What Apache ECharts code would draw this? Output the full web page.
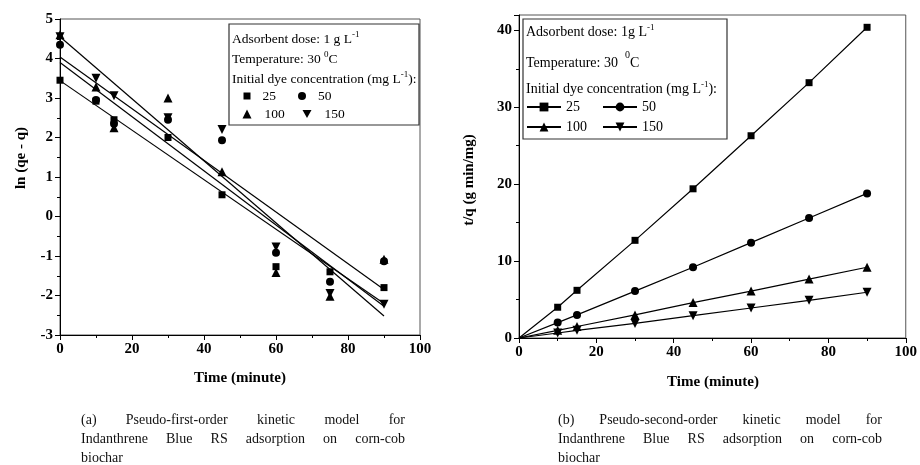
<!DOCTYPE html>
<html>
<head>
<meta charset="utf-8">
<script src="https://cdn.jsdelivr.net/npm/echarts@6/dist/echarts.min.js"></script>
<style>
  body { margin: 0; background: #fff; }
  #chart { position: absolute; left: 0; top: 0; width: 920px; height: 465px; }
  .caption {
    position: absolute;
    top: 410px;
    width: 324px;
    font: 14px "Liberation Serif", serif;
    line-height: 19px;
    color: #111;
  }
  .caption .j { text-align: justify; text-align-last: justify; }
</style>
</head>
<body>
<div id="chart"></div>
<div class="caption" style="left:81px">
  <div class="j">(a) Pseudo-first-order kinetic model for</div>
  <div class="j">Indanthrene Blue RS adsorption on corn-cob</div>
  <div>biochar</div>
</div>
<div class="caption" style="left:558px">
  <div class="j">(b) Pseudo-second-order kinetic model for</div>
  <div class="j">Indanthrene Blue RS adsorption on corn-cob</div>
  <div>biochar</div>
</div>
<script>
// (a) pseudo-first-order, ln(qe - q)
const times = [0, 10, 15, 30, 45, 60, 75, 90];
const ln25 = [3.45, 2.92, 2.45, 2.0, 0.55, -1.27, -1.4, -1.8];
const ln50 = [4.35, 2.95, 2.35, 2.45, 1.93, -0.92, -1.65, -1.13];
const ln100 = [4.6, 3.28, 2.25, 3.0, 1.13, -1.42, -2.02, -1.08];
const ln150 = [4.55, 3.5, 3.06, 2.5, 2.2, -0.77, -1.95, -2.22];

// fitted lines, read at t = 0 and t = 90
const fitTimes = [0, 90];
const fitStart = [4.55, 4.04, 3.9, 3.44];
const fitEnd = [-2.52, -1.85, -2.27, -2.2];

// (b) pseudo-second-order, t/q
const times2 = [0, 10, 15, 30, 45, 60, 75, 90];
const tq25 = [0, 4.0, 6.2, 12.7, 19.4, 26.3, 33.2, 40.4];
const tq50 = [0, 2.0, 3.0, 6.1, 9.2, 12.4, 15.6, 18.8];
const tq100 = [0, 1.0, 1.5, 3.0, 4.6, 6.1, 7.66, 9.2];
const tq150 = [0, 0.65, 1.0, 1.9, 2.9, 3.9, 4.9, 5.95];

const concLabels = ["25", "50", "100", "150"];
const xTicks = { min: 0, max: 100, interval: 20 };

const FONT = "Liberation Serif";
const symbols = ["rect", "circle", "triangle", "path://M0,0L10,0L5,8.7Z"];
const symbolSizes = [7, 8, 9, 9];

const chart = echarts.init(document.getElementById("chart"));

function xAxis(gridIndex) {
  return {
    type: "value",
    gridIndex: gridIndex,
    min: xTicks.min,
    max: xTicks.max,
    interval: xTicks.interval,
    axisLine: { show: true, onZero: false, lineStyle: { color: "#000", width: 1 } },
    axisTick: { show: true, inside: false, length: 5, lineStyle: { color: "#000" } },
    minorTick: { show: true, splitNumber: 2, length: 3, lineStyle: { color: "#000" } },
    splitLine: { show: false },
    axisLabel: {
      color: "#000",
      fontFamily: FONT,
      fontWeight: "bold",
      fontSize: 15,
      margin: 7
    }
  };
}

function yAxis(gridIndex, min, max, interval) {
  return {
    type: "value",
    gridIndex: gridIndex,
    min: min,
    max: max,
    interval: interval,
    axisLine: { show: true, onZero: false, lineStyle: { color: "#000", width: 1 } },
    axisTick: { show: true, inside: false, length: 5, lineStyle: { color: "#000" } },
    minorTick: { show: true, splitNumber: 2, length: 3, lineStyle: { color: "#000" } },
    splitLine: { show: false },
    axisLabel: {
      color: "#000",
      fontFamily: FONT,
      fontWeight: "bold",
      fontSize: 15,
      margin: 7,
      showMaxLabel: max % interval === 0
    }
  };
}

const lnData = [ln25, ln50, ln100, ln150];
const tqData = [tq25, tq50, tq100, tq150];

const scatterSeries = lnData.map((vals, i) => ({
  name: "a" + concLabels[i],
  type: "scatter",
  xAxisIndex: 0,
  yAxisIndex: 0,
  symbol: symbols[i],
  symbolSize: symbolSizes[i],
  itemStyle: { color: "#000", opacity: 1 },
  data: vals.map((v, k) => [times[k], v]),
  z: 3
}));

const fitSeries = fitStart.map((s, i) => ({
  type: "line",
  xAxisIndex: 0,
  yAxisIndex: 0,
  symbol: "none",
  silent: true,
  lineStyle: { color: "#000", width: 1.2 },
  data: [[fitTimes[0], s], [fitTimes[1], fitEnd[i]]],
  z: 2
}));

const tqSeries = tqData.map((vals, i) => ({
  name: "b" + concLabels[i],
  type: "line",
  xAxisIndex: 1,
  yAxisIndex: 1,
  symbol: symbols[i],
  symbolSize: symbolSizes[i],
  showSymbol: true,
  itemStyle: { color: "#000", opacity: 1 },
  lineStyle: { color: "#000", width: 1.2 },
  data: vals.map((v, k) =>
    k === 0 ? { value: [times2[k], v], symbol: "none" } : [times2[k], v]
  )
}));

function legendItem(name, left, cy, w, h, fs, pad) {
  return {
    data: [name],
    left: left,
    top: cy - 8,
    z: 20,
    padding: 0,
    itemWidth: w,
    itemHeight: h,
    itemGap: 0,
    selectedMode: false,
    formatter: n => n.slice(1),
    itemStyle: { opacity: 1 },
    textStyle: { fontFamily: FONT, fontSize: fs, color: "#000", padding: [0, 0, 0, pad] }
  };
}

function makeRich(fs) {
  return {
    n: { fontFamily: FONT, fontSize: fs, color: "#000" },
    s: { fontFamily: FONT, fontSize: 9, color: "#000", padding: [0, 0, 8, 0] },
    t: { fontFamily: FONT, fontSize: 10, color: "#000", padding: [0, 0, 16, 0] }
  };
}

function boxText(x, y, text, fs) {
  return {
    type: "text",
    z: 10,
    style: { x: x, y: y, text: text, rich: makeRich(fs), verticalAlign: "middle", fill: "#000" }
  };
}

function axisName(x, y, text, rotate) {
  return {
    type: "text",
    x: x,
    y: y,
    rotation: rotate ? Math.PI / 2 : 0,
    style: {
      text: text,
      fontFamily: FONT,
      fontWeight: "bold",
      fontSize: 15,
      fill: "#000",
      align: "center",
      verticalAlign: "middle"
    }
  };
}

chart.setOption({
  animation: false,
  backgroundColor: "#fff",
  grid: [
    { left: 60, top: 19, width: 360, height: 316, show: true, borderColor: "#555", borderWidth: 1 },
    { left: 519, top: 15, width: 389, height: 323, show: true, borderColor: "#555", borderWidth: 1 }
  ],
  xAxis: [xAxis(0), xAxis(1)],
  yAxis: [yAxis(0, -3, 5, 1), yAxis(1, 0, 42, 10)],
  legend: [
    legendItem("a25", 243.5, 97, 7, 7, 13.5, 7),
    legendItem("a50", 298, 97, 8, 8, 13.5, 7),
    legendItem("a100", 242.5, 115, 9, 9, 13.5, 8),
    legendItem("a150", 302.5, 115, 9, 9, 13.5, 8),
    legendItem("b25", 526, 108, 34, 11, 14, 0),
    legendItem("b50", 602, 108, 34, 11, 14, 0),
    legendItem("b100", 526, 128, 34, 11, 14, 0),
    legendItem("b150", 602, 128, 34, 11, 14, 0)
  ],
  graphic: [
    {
      type: "rect",
      shape: { x: 229, y: 24, width: 190, height: 101 },
      style: { fill: "#fff", stroke: "#333", lineWidth: 1.2 },
      z: 5
    },
    {
      type: "rect",
      shape: { x: 523, y: 19, width: 204, height: 120 },
      style: { fill: "#fff", stroke: "#333", lineWidth: 1.2 },
      z: 5
    },
    boxText(232, 39, "{n|Adsorbent dose: 1 g L}{s|-1}", 13.5),
    boxText(232, 59, "{n|Temperature: 30 }{s|0}{n|C}", 13.5),
    boxText(232, 79, "{n|Initial dye concentration (mg L}{s|-1}{n|):}", 13.5),
    boxText(526, 32, "{n|Adsorbent dose: 1g L}{s|-1}", 14),
    boxText(526, 63, "{n|Temperature: 30  }{t|0}{n|C}", 14),
    boxText(526, 89, "{n|Initial dye concentration (mg L}{s|-1}{n|):}", 14),
    axisName(21, 158, "ln (qe - q)", true),
    axisName(240, 378, "Time (minute)", false),
    axisName(469, 180, "t/q (g min/mg)", true),
    axisName(713, 382, "Time (minute)", false)
  ],
  series: [].concat(fitSeries, scatterSeries, tqSeries)
});
</script>
</body>
</html>
